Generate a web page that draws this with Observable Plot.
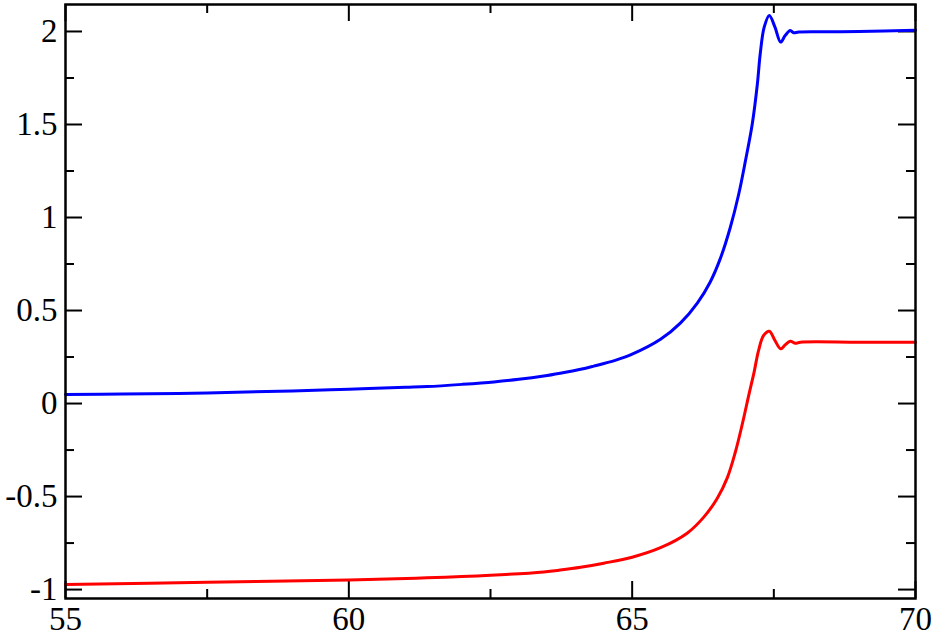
<!DOCTYPE html>
<html><head><meta charset="utf-8">
<script src="https://cdn.jsdelivr.net/npm/d3@7"></script>
<script src="https://cdn.jsdelivr.net/npm/@observablehq/plot@0.6"></script>
<style>body{margin:0;background:#fff}</style>
</head><body><div id="chart"></div>
<script>
// Blue series
const blueX = [55, 56, 57.5, 59, 60, 61, 61.38, 62, 62.56, 63, 63.44, 63.73, 64.09, 64.32, 64.7, 65.0, 65.5, 65.85, 66.15, 66.38, 66.56, 66.73, 66.88, 67.0, 67.12, 67.21, 67.26, 67.33, 67.42, 67.52, 67.62, 67.70, 67.79, 67.85, 67.94, 68.5, 69.0, 70];
const blueY = [0.048, 0.051, 0.057, 0.068, 0.077, 0.087, 0.091, 0.103, 0.116, 0.130, 0.148, 0.163, 0.184, 0.201, 0.232, 0.265, 0.345, 0.432, 0.540, 0.655, 0.783, 0.945, 1.125, 1.306, 1.504, 1.719, 1.880, 2.023, 2.086, 2.023, 1.943, 1.978, 2.005, 1.993, 1.997, 1.998, 2.000, 2.006];
// Red series
const redX = [55, 57.5, 60, 61.38, 62.5, 63.44, 63.73, 64.09, 64.5, 65.0, 65.5, 65.97, 66.26, 66.5, 66.68, 66.82, 66.94, 67.06, 67.15, 67.23, 67.32, 67.42, 67.52, 67.62, 67.70, 67.79, 67.88, 67.97, 69.0, 70];
const redY = [-0.973, -0.961, -0.948, -0.937, -0.923, -0.905, -0.895, -0.880, -0.858, -0.826, -0.775, -0.697, -0.612, -0.510, -0.398, -0.262, -0.115, 0.048, 0.166, 0.285, 0.366, 0.389, 0.339, 0.294, 0.315, 0.335, 0.324, 0.330, 0.330, 0.330];
// Ticks
const xMajor = [55, 60, 65, 70];
const xMinor = [57.5, 62.5, 67.5];
const yMajor = [-1, -0.5, 0, 0.5, 1, 1.5, 2];
const yMinor = [-0.75, -0.25, 0.25, 0.75, 1.25, 1.75];

const W = 935, H = 635, mt = 4, mb = 37, ml = 65, mr = 20;
const innerH = H - mt - mb, innerW = W - ml - mr;
const majorLen = 17, minorLen = 9, tickW = 2;
const font = "'Liberation Serif', 'Times New Roman', Times, serif";

const chart = Plot.plot({
  width: W, height: H,
  marginTop: mt, marginBottom: mb, marginLeft: ml, marginRight: mr,
  style: {fontFamily: font, fontSize: "33px", background: "#fff", color: "#000"},
  x: {domain: [55, 70]},
  y: {domain: [-1.048, 2.145]},
  marks: [
    Plot.tickX(xMajor, {x: d => d, insetTop: innerH - majorLen, strokeWidth: tickW}),
    Plot.tickX(xMinor, {x: d => d, insetTop: innerH - minorLen, strokeWidth: tickW}),
    Plot.tickX(xMajor, {x: d => d, insetBottom: innerH - majorLen, strokeWidth: tickW}),
    Plot.tickX(xMinor, {x: d => d, insetBottom: innerH - minorLen, strokeWidth: tickW}),
    Plot.tickY(yMajor, {y: d => d, insetRight: innerW - majorLen, strokeWidth: tickW}),
    Plot.tickY(yMinor, {y: d => d, insetRight: innerW - minorLen, strokeWidth: tickW}),
    Plot.tickY(yMajor, {y: d => d, insetLeft: innerW - majorLen, strokeWidth: tickW}),
    Plot.tickY(yMinor, {y: d => d, insetLeft: innerW - minorLen, strokeWidth: tickW}),
    Plot.axisX(xMajor, {tickSize: 0, tickPadding: 8, fontSize: 33, fontFamily: font, tickFormat: d => String(d)}),
    Plot.axisY(yMajor, {tickSize: 0, tickPadding: 8, fontSize: 33, fontFamily: font, tickFormat: d => String(d)}),
    Plot.line(blueY, {x: blueX, y: d => d, stroke: "#0000ff", strokeWidth: 3, curve: "catmull-rom"}),
    Plot.line(redY, {x: redX, y: d => d, stroke: "#ff0000", strokeWidth: 3, curve: "catmull-rom"}),
    Plot.frame({stroke: "#000", strokeWidth: 2.5})
  ]
});
document.getElementById("chart").appendChild(chart);
</script>
</body></html>
